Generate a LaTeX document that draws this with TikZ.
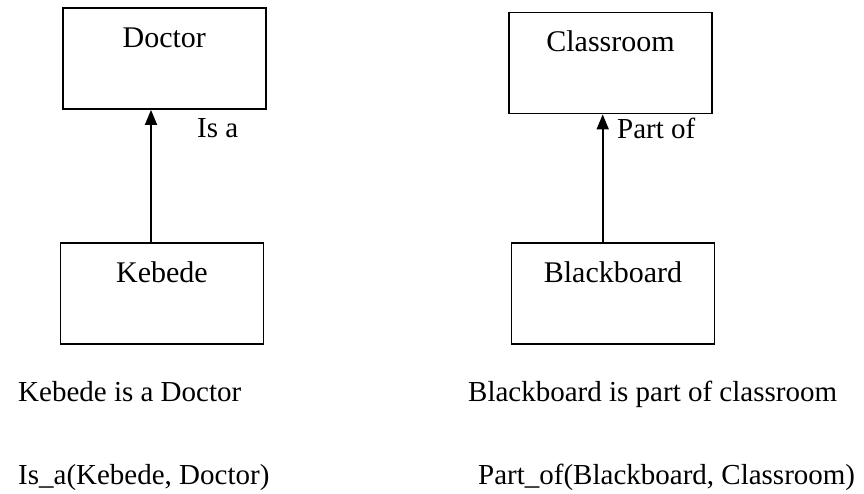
\documentclass[tikz,border=0pt]{standalone}
\usepackage{fontspec}
\setmainfont{Liberation Serif}
\usetikzlibrary{positioning}
\usetikzlibrary{arrows.meta}

\tikzset{
  entity/.style={draw, line width=1.8pt, minimum width=203pt, inner xsep=0pt,
    inner ysep=18pt, text height=21pt, text depth=44pt,
    font=\fontsize{30}{35}\selectfont},
  relarrow/.style={line width=1.8pt, -{Triangle[length=15pt,width=12pt]}},
  lbl/.style={anchor=base west, inner sep=0pt, font=\fontsize{29}{34}\selectfont}
}

\begin{document}
\begin{tikzpicture}[x=1pt, y=-1pt]

\useasboundingbox (0,0) rectangle (864,493);

\begin{scope}[xshift=0pt]{
% nodes
\node[entity] (doctor) at (164.3,58.5) {Doctor};
\node[entity] (kebede) at (162,293.5) {Kebede};

\draw[relarrow] ([xshift=-11pt]kebede.north) -- ([xshift=-11pt]kebede.north |- doctor.south);

\node[lbl] (isa) at (197,137) {Is a};

\node[lbl] (isatext) at (18,401) {Kebede is a Doctor};
\node[lbl] (isapred) at (18,484) {Is\_a(Kebede, Doctor)};
} \end{scope}

\begin{scope}[xshift=0pt]{
% nodes
\node[entity] (classroom) at (610.5,63) {Classroom};
\node[entity] (blackboard) at (613,293.5) {Blackboard};

\draw[relarrow] ([xshift=-10.3pt]blackboard.north) -- ([xshift=-10.3pt]blackboard.north |- classroom.south);

\node[lbl] (partof) at (617,138) {Part of};

\node[lbl] (partoftext) at (468,401) {Blackboard is part of classroom};
\node[lbl] (partofpred) at (478,484) {Part\_of(Blackboard, Classroom)};
} \end{scope}

\end{tikzpicture}
\end{document}
